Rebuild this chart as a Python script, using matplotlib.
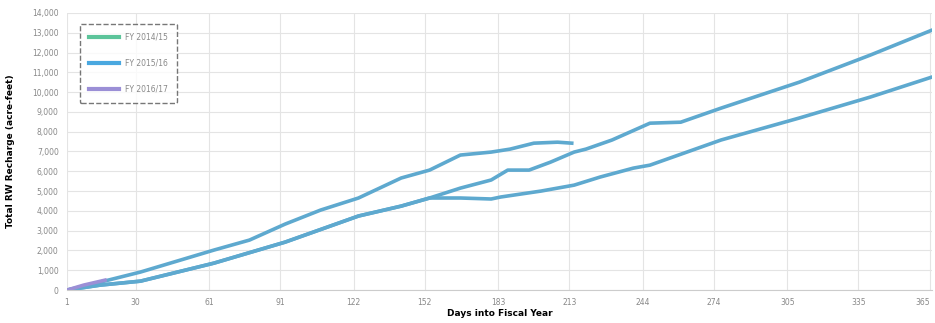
import matplotlib.pyplot as plt
from matplotlib.lines import Line2D

# cumulative recharge (acre-feet) by day of fiscal year
fy_a_days = [1, 15, 32, 63, 78, 93, 108, 124, 142, 154, 167, 180, 188, 198, 208, 214]
fy_a_vals = [0, 400, 910, 2020, 2525, 3330, 4040, 4650, 5660, 6060, 6820, 6970, 7120, 7420, 7470, 7420]

fy_b_days = [1, 15, 32, 63, 93, 124, 142, 154, 167, 180, 187, 196, 205, 215, 220, 231, 247, 260, 277, 310, 340, 366]
fy_b_vals = [0, 250, 450, 1360, 2420, 3740, 4240, 4650, 5150, 5560, 6060, 6060, 6460, 6970, 7120, 7580, 8430, 8480, 9190, 10500, 11870, 13130]

fy_c_days = [1, 15, 32, 63, 93, 124, 142, 154, 167, 180, 184, 201, 215, 226, 240, 247, 277, 310, 340, 366]
fy_c_vals = [0, 250, 450, 1360, 2420, 3740, 4240, 4650, 4650, 4600, 4700, 5000, 5300, 5710, 6160, 6310, 7580, 8690, 9750, 10760]

fy_d_days = [1, 8, 17]
fy_d_vals = [0, 250, 500]

legend_labels = ['FY 2014/15', 'FY 2015/16', 'FY 2016/17']
legend_colors = ['#5cc49a', '#4aa8e0', '#9b8fd6']

x_ticks = [1, 30, 61, 91, 122, 152, 183, 213, 244, 274, 305, 335, 365]
y_ticks = list(range(0, 14001, 1000))

line_color = '#5ea9cf'

fig = plt.figure(figsize=(9.35, 3.23), dpi=100)
ax = fig.add_axes([0.0717, 0.102, 0.925, 0.858])

ax.plot(fy_a_days, fy_a_vals, color=line_color, lw=2.6)
ax.plot(fy_b_days, fy_b_vals, color=line_color, lw=2.6)
ax.plot(fy_c_days, fy_c_vals, color=line_color, lw=2.6)
ax.plot(fy_d_days, fy_d_vals, color=legend_colors[2], lw=2.6)

ax.set_xlim(1, 366)
ax.set_ylim(0, 14000)
ax.set_xticks(x_ticks)
ax.set_yticks(y_ticks)
ax.set_yticklabels(['{:,}'.format(v) for v in y_ticks])
ax.tick_params(labelsize=5.5, colors='#888888', length=0, pad=6)
ax.get_xticklabels()[-1].set_horizontalalignment('right')
ax.grid(True, color='#e4e4e4', lw=0.8)
for s in ['top', 'right', 'left']:
    ax.spines[s].set_visible(False)
ax.spines['bottom'].set_color('#cccccc')

ax.set_xlabel('Days into Fiscal Year', fontsize=6.5, fontweight='bold', labelpad=1)
ax.set_ylabel('Total RW Recharge (acre-feet)', fontsize=6.5, fontweight='bold', labelpad=12)

handles = [Line2D([], [], color=c, lw=3) for c in legend_colors]
leg = ax.legend(handles, legend_labels, loc='upper left', bbox_to_anchor=(0.01, 0.975),
                fontsize=5.5, handlelength=4, labelspacing=2.2, borderpad=1.2,
                frameon=True, fancybox=True)
leg.get_frame().set_edgecolor('#555555')
leg.get_frame().set_linestyle('--')
for t in leg.get_texts():
    t.set_color('#888888')

fig.savefig('out.png', dpi=100)
